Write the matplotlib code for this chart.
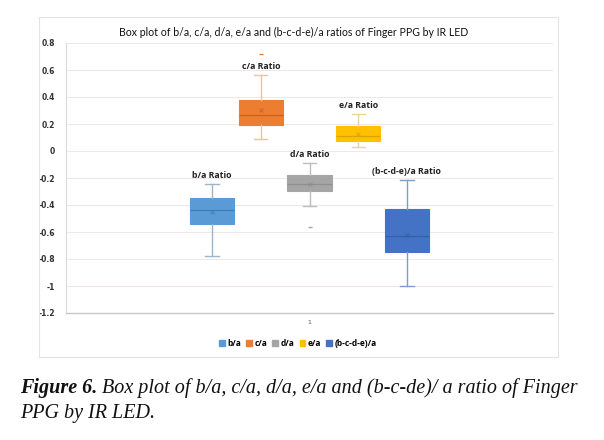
import matplotlib
matplotlib.use("Agg")
import matplotlib.pyplot as plt
from matplotlib.patches import Patch

# ---- data ----
series = ["b/a", "c/a", "d/a", "e/a", "(b-c-d-e)/a"]
box_labels = ["b/a Ratio", "c/a Ratio", "d/a Ratio", "e/a Ratio", "(b-c-d-e)/a Ratio"]
q1 = [-0.54, 0.19, -0.296, 0.074, -0.748]
med = [-0.44, 0.267, -0.245, 0.11, -0.63]
q3 = [-0.35, 0.378, -0.178, 0.185, -0.43]
whislo = [-0.78, 0.089, -0.407, 0.03, -1.0]
whishi = [-0.245, 0.563, -0.089, 0.274, -0.215]
means = [-0.45, 0.30, -0.244, 0.126, -0.62]
fliers = [[], [0.72], [-0.563], [], []]
category = ["1"]
yticks = [0.8, 0.6, 0.4, 0.2, 0, -0.2, -0.4, -0.6, -0.8, -1, -1.2]
title = "Box plot of b/a, c/a, d/a, e/a and (b-c-d-e)/a ratios of Finger PPG by IR LED"
caption_bold = "Figure 6."
caption_line1 = " Box plot of b/a, c/a, d/a, e/a and (b-c-de)/ a ratio of Finger"
caption_line2 = "PPG by IR LED."

colors = ["#5B9BD5", "#ED7D31", "#A5A5A5", "#FFC000", "#4472C4"]
whisk_colors = ["#9DB4CC", "#E8C3A5", "#BDBDBD", "#EAD49A", "#7F9CC8"]
med_colors = ["#3F7FB8", "#C8621C", "#8E8E8E", "#D9A400", "#365FA8"]

fig = plt.figure(figsize=(6.04, 4.40), dpi=100)
fig.patch.set_facecolor("white")

# chart frame
frame = plt.Rectangle((39 / 604, 1 - 357 / 440), (558 - 39) / 604, (357 - 17) / 440,
                      transform=fig.transFigure, fill=False, edgecolor="#E3E3E3", lw=0.8)
fig.patches.append(frame)

ax = fig.add_axes([66 / 604, 1 - 313 / 440, (553 - 66) / 604, (313 - 43) / 440])
ax.set_facecolor("white")

positions = [0.6, 0.8, 1.0, 1.2, 1.4]
for i in range(len(series)):
    st = [dict(med=med[i], q1=q1[i], q3=q3[i], whislo=whislo[i], whishi=whishi[i],
               mean=means[i], fliers=fliers[i])]
    ax.bxp(st, positions=[positions[i]], widths=0.182, patch_artist=True,
           showmeans=True, showfliers=True,
           boxprops=dict(facecolor=colors[i], edgecolor=colors[i], lw=0.8),
           medianprops=dict(color=med_colors[i], lw=0.9),
           whiskerprops=dict(color=whisk_colors[i], lw=1.0),
           capprops=dict(color=whisk_colors[i], lw=1.0),
           capwidths=0.055,
           meanprops=dict(marker="x", markeredgecolor=med_colors[i], markersize=3, mew=0.6),
           flierprops=dict(marker="_", markeredgecolor=colors[i], markersize=3, mew=1.0))
    ax.text(positions[i], whishi[i] + 0.06, box_labels[i], ha="center", va="center",
            fontsize=6.3, fontweight="bold", family="Open Sans", color="#222222")

ax.set_xlim(0.0, 2.0)
ax.set_ylim(-1.2, 0.8)
ax.set_yticks(yticks)
ax.set_yticklabels([f"{v:g}" for v in yticks], fontsize=5.5, fontweight="bold",
                   family="DejaVu Sans", color="#333333")
ax.set_xticks([1.0])
ax.set_xticklabels(category, fontsize=4.5, color="#555555")
ax.tick_params(axis="both", length=0, pad=8)
ax.tick_params(axis="x", pad=5)
ax.grid(axis="y", color="#F3E6E6", lw=0.7)
ax.set_axisbelow(True)
for s in ["top", "right"]:
    ax.spines[s].set_visible(False)
ax.spines["left"].set_color("#D9D9D9")
ax.spines["left"].set_linewidth(0.8)
ax.spines["bottom"].set_color("#C8C8C8")
ax.spines["bottom"].set_linewidth(1.0)

fig.text(294 / 604, 1 - 32 / 440, title,
         ha="center", va="center", fontsize=7.6, family="Lato", color="#111111")

handles = [Patch(facecolor=c, edgecolor=c) for c in colors]
leg = fig.legend(handles, series, loc="center", bbox_to_anchor=(298 / 604, 1 - 343 / 440),
                 ncol=5, frameon=False, handlelength=0.7, handleheight=0.7,
                 handletextpad=0.3, columnspacing=0.6,
                 prop=dict(family="Open Sans", size=6.0, weight="bold"))

# caption
cap_size = 14.5
x0 = 20 / 604
t1 = fig.text(x0, 1 - 388 / 440, caption_bold, ha="left", va="center", fontsize=cap_size,
              family="Liberation Serif", style="italic", weight="bold", color="#111111")
renderer = fig.canvas.get_renderer()
bb = t1.get_window_extent(renderer=renderer)
x1 = bb.x1 / fig.bbox.width
fig.text(x1, 1 - 388 / 440, caption_line1, ha="left", va="center", fontsize=cap_size,
         family="Liberation Serif", style="italic", color="#111111")
fig.text(x0, 1 - 413 / 440, caption_line2, ha="left", va="center", fontsize=cap_size,
         family="Liberation Serif", style="italic", color="#111111")

fig.savefig("out.png", dpi=100, facecolor="white")
